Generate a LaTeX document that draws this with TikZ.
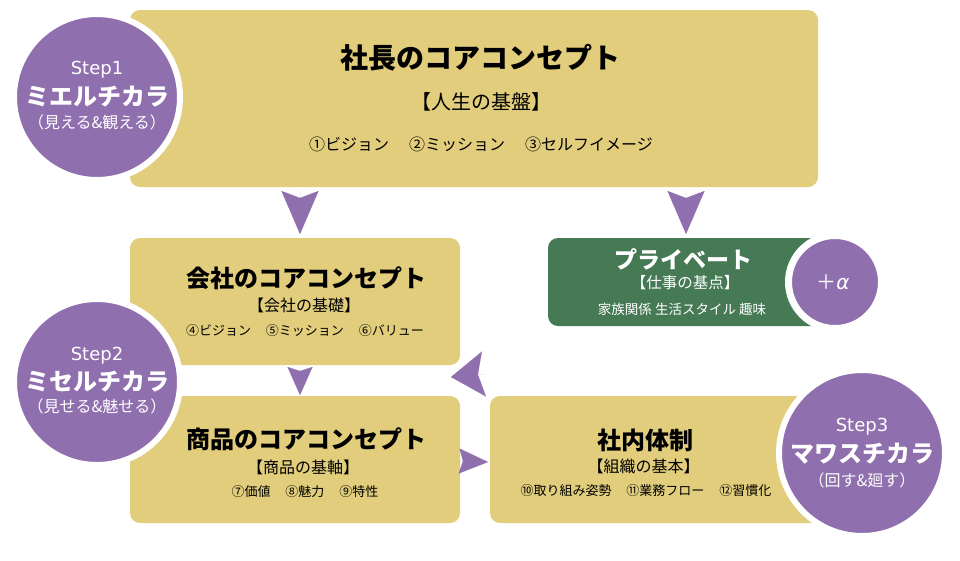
\documentclass[tikz,border=0pt]{standalone}
\usepackage{fontspec}
\setmainfont{Noto Sans CJK JP}
\newfontfamily\dejavu{DejaVu Sans}
\usetikzlibrary{arrows.meta,calc}
\definecolor{gold}{HTML}{E1CD7B}
\definecolor{vio}{HTML}{8F6FAE}
\definecolor{grn}{HTML}{457A55}
\newcommand{\fsz}[1]{\fontsize{#1}{#1}\selectfont}
\begin{document}
\begin{tikzpicture}[x=1pt,y=-1pt,
  box/.style={rectangle, fill=gold, rounded corners=10pt, inner sep=0pt, outer sep=0pt, draw=none},
  stepcirc/.style={circle, fill=vio, draw=white, line width=6pt, minimum size=166pt, inner sep=0pt, outer sep=0pt},
  alphacirc/.style={circle, fill=vio, draw=white, line width=7pt, minimum size=93pt, inner sep=0pt, outer sep=0pt},
  txt/.style={inner sep=0pt, anchor=center},
  ttl/.style={txt, font=\fsz{24}\bfseries},
  sub/.style={txt, font=\fsz{16}},
  itm/.style={txt, font=\fsz{13}},
  stxt/.style={txt, text=white, font=\dejavu\fsz{18}},
  smain/.style={txt, text=white, font=\fsz{24}\bfseries},
  ssub/.style={txt, text=white, font=\fsz{16}},
  dartL/.style={vio, line width=0.01pt, -{Stealth[length=43pt,width=37pt,inset=7pt]}},
  dartM/.style={vio, line width=0.01pt, -{Stealth[length=33pt,width=45pt,inset=6pt]}},
  dartS/.style={vio, line width=0.01pt, -{Stealth[length=28pt,width=25pt,inset=4pt]}},
  dartR/.style={vio, line width=0.01pt, -{Stealth[length=29pt,width=25pt,inset=4pt]}}
]
\fill[white] (0,0) rectangle (960,560);
\useasboundingbox (0,0) rectangle (960,560);

% boxes
\node[box, minimum width=688pt, minimum height=177pt] (top) at (474,98.5) {};
\node[box, minimum width=330pt, minimum height=127pt] (company) at (295,301.5) {};
\node[box, minimum width=330pt, minimum height=127pt] (product) at (295,459.5) {};
\node[box, minimum width=340pt, minimum height=127pt] (internal) at (660,459.5) {};
\node[box, fill=grn, minimum width=292pt, minimum height=88pt] (private) at (694,282) {};

% circles
\node[stepcirc] (s1) at (97,97) {};
\node[stepcirc] (s2) at (97,382) {};
\node[stepcirc] (s3) at (862,453) {};
\node[alphacirc] (alpha) at (835,282) {};

% arrows
\draw[dartL] ($(company.north)+(5,-47)$) -- ($(company.north)+(5,-4)$);
\draw[dartL] ($(private.north)+(-8,-47)$) -- ($(private.north)+(-8,-4)$);
\draw[dartS] ($(product.north)+(5,-29)$) -- ($(product.north)+(5,-1)$);
\draw[dartM] ($(internal.north west)+(-6,-22)$) -- ($(company.south east)+(-9,12)$);
\draw[dartR] ($(product.east)+(-1,1.5)$) -- ($(internal.west)+(-2,2.5)$);

% top box text
\node[txt, font=\fsz{28}\bfseries] (toptitle) at (480,57.5) {社長のコアコンセプト};
\node[txt, font=\fsz{20}] (topsub) at (481,102) {【人生の基盤】};
\node[txt, font=\fsz{16}] (topitems) at (481,144) {①ビジョン\hspace{20pt}②ミッション\hspace{20pt}③セルフイメージ};

% company text
\node[ttl] (ctitle) at (306,278) {会社のコアコンセプト};
\node[sub] (csub) at (304,305) {【会社の基礎】};
\node[itm] (citems) at (305,331) {④ビジョン\hspace{15pt}⑤ミッション\hspace{15pt}⑥バリュー};

% product text
\node[ttl] (ptitle) at (306,439) {商品のコアコンセプト};
\node[sub] (psub) at (303,467) {【商品の基軸】};
\node[itm] (pitems) at (305,491.5) {⑦価値\hspace{15pt}⑧魅力\hspace{15pt}⑨特性};

% internal text
\node[ttl] (ititle) at (645.5,440) {社内体制};
\node[sub] (isub) at (643.5,466.5) {【組織の基本】};
\node[itm] (iitems) at (646,491) {⑩取り組み姿勢\hspace{15pt}⑪業務フロー\hspace{15pt}⑫習慣化};

% private text
\node[txt, text=white, font=\fsz{23}\bfseries] (prtitle) at (683,259) {プライベート};
\node[txt, text=white, font=\fsz{15.5}] (prsub) at (685,283) {【仕事の基点】};
\node[txt, text=white, font=\fsz{13.5}] (pritems) at (682,309) {家族関係 生活スタイル 趣味};

% step texts
\node[stxt] (s1a) at (97,70) {Step1};
\node[smain] (s1b) at (97,97) {ミエルチカラ};
\node[ssub] (s1c) at (97,122) {（見える\&観える）};
\node[stxt] (s2a) at (97,356) {Step2};
\node[smain] (s2b) at (97,382) {ミセルチカラ};
\node[ssub] (s2c) at (97,406) {（見せる\&魅せる）};
\node[stxt] (s3a) at (862,427) {Step3};
\node[smain] (s3b) at (862,454) {マワスチカラ};
\node[ssub] (s3c) at (862,480) {（回す\&廻す）};

\node[txt, text=white, font=\fsz{20}] (alphat) at (833,282) {＋{\dejavu\itshape α}};
\end{tikzpicture}
\end{document}
